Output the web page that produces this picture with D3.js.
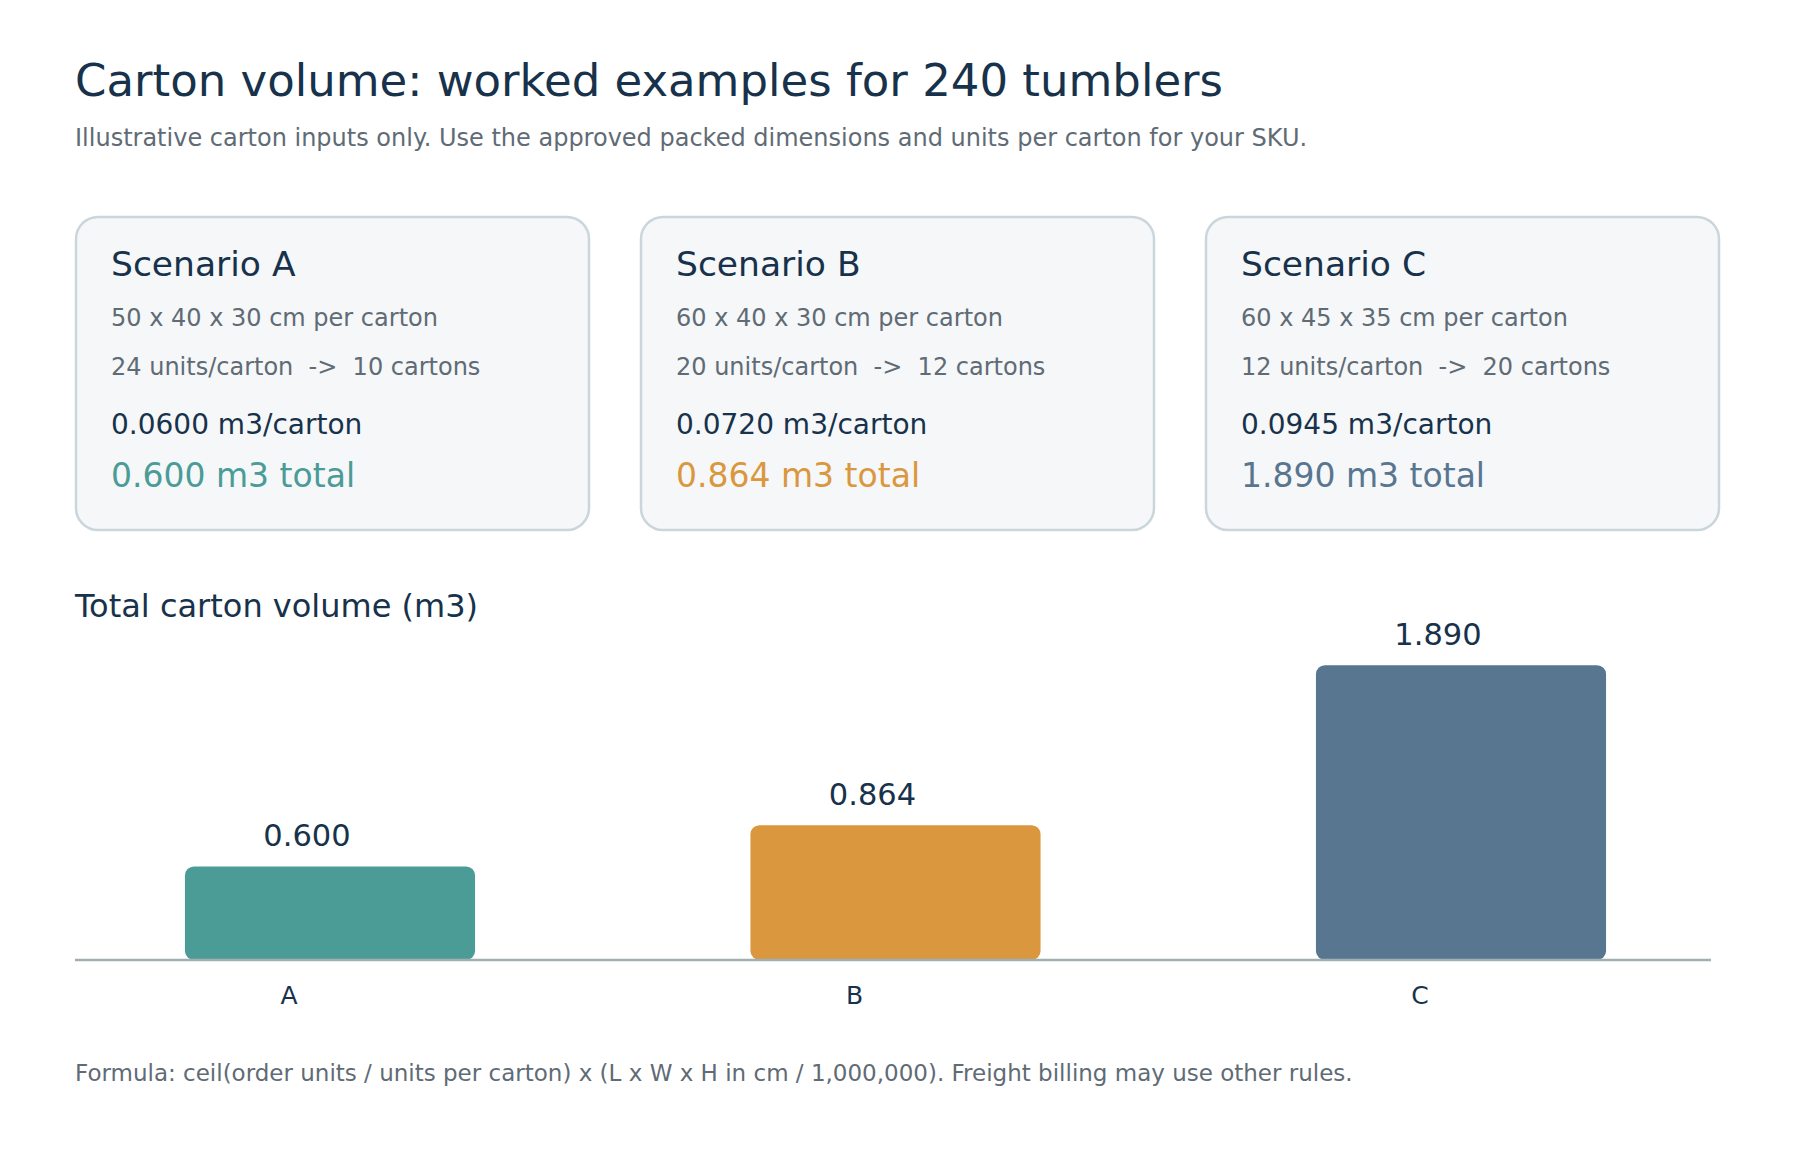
<!DOCTYPE html>
<html><head><meta charset="utf-8">
<script src="https://cdn.jsdelivr.net/npm/d3@7"></script>
<style>html,body{margin:0;padding:0;background:#fff;}svg{display:block;font-family:"DejaVu Sans",sans-serif;}</style>
</head><body>
<svg id="chart" width="1800" height="1150"></svg>
<script>
const scenarios = ["A", "B", "C"];
const dims = ["50 x 40 x 30 cm per carton", "60 x 40 x 30 cm per carton", "60 x 45 x 35 cm per carton"];
const unitsPerCarton = [24, 20, 12];
const cartons = [10, 12, 20];
const perCarton = [0.0600, 0.0720, 0.0945];
const totals = [0.600, 0.864, 1.890];
const colors = ["#4b9b97", "#da973e", "#587690"];
const titleText = "Carton volume: worked examples for 240 tumblers";
const subtitleText = "Illustrative carton inputs only. Use the approved packed dimensions and units per carton for your SKU.";
const sectionText = "Total carton volume (m3)";
const footText = "Formula: ceil(order units / units per carton) x (L x W x H in cm / 1,000,000). Freight billing may use other rules.";

const svg = d3.select("#chart");
const dark = "#17324a", gray = "#5f6b75";

svg.append("text").attr("x", 75).attr("y", 96).attr("font-size", 45).attr("fill", dark).text(titleText);
svg.append("text").attr("x", 75).attr("y", 146).attr("font-size", 24).attr("fill", gray).text(subtitleText);

// cards
const cardX = d3.scaleBand().domain(scenarios).range([76, 1719]).paddingInner(0.092).paddingOuter(0);
const cardTop = 217, cardH = 313;
const cards = svg.selectAll("g.card").data(scenarios).join("g").attr("class", "card")
  .attr("transform", d => `translate(${cardX(d)},${cardTop})`);
cards.append("rect").attr("width", cardX.bandwidth()).attr("height", cardH).attr("rx", 22)
  .attr("fill", "#f5f7f9").attr("stroke", "#cbd6dc").attr("stroke-width", 2.5);
cards.append("text").attr("x", 35).attr("y", 59).attr("font-size", 34.5).attr("fill", dark).text(d => "Scenario " + d);
cards.append("text").attr("x", 35).attr("y", 109).attr("font-size", 24).attr("fill", gray).text((d, i) => dims[i]);
cards.append("text").attr("x", 35).attr("y", 158).attr("font-size", 24).attr("fill", gray)
  .attr("xml:space", "preserve").style("white-space", "pre")
  .text((d, i) => `${unitsPerCarton[i]} units/carton  ->  ${cartons[i]} cartons`);
cards.append("text").attr("x", 35).attr("y", 217).attr("font-size", 28).attr("fill", dark)
  .text((d, i) => d3.format(".4f")(perCarton[i]) + " m3/carton");
cards.append("text").attr("x", 35).attr("y", 270).attr("font-size", 33).attr("fill", (d, i) => colors[i])
  .text((d, i) => d3.format(".3f")(totals[i]) + " m3 total");

// bar chart
svg.append("text").attr("x", 75).attr("y", 617).attr("font-size", 32).attr("fill", dark).text(sectionText);
const baseY = 960;
const x = d3.scaleBand().domain(scenarios).range([77.5, 1713.5]).paddingInner(0.487).paddingOuter(0.19);
const y = d3.scaleLinear().domain([0, 2.2]).range([baseY, baseY - 2.2 * 156]);
svg.selectAll("rect.bar").data(scenarios).join("rect").attr("class", "bar")
  .attr("x", d => x(d)).attr("width", x.bandwidth())
  .attr("y", (d, i) => y(totals[i])).attr("height", (d, i) => y(0) - y(totals[i]))
  .attr("rx", 9).attr("fill", (d, i) => colors[i]);
svg.selectAll("text.val").data(scenarios).join("text").attr("class", "val")
  .attr("x", d => x(d) + x.bandwidth() / 2 - 23).attr("y", (d, i) => y(totals[i]) - 20)
  .attr("text-anchor", "middle").attr("font-size", 30.5).attr("fill", dark)
  .text((d, i) => d3.format(".3f")(totals[i]));
const axis = svg.append("g").attr("transform", `translate(-41,${baseY})`)
  .call(d3.axisBottom(x).tickSize(0).tickPadding(26));
axis.select(".domain").remove();
axis.selectAll("text").attr("font-size", 25).attr("fill", dark).attr("font-family", "DejaVu Sans").attr("dy", "0.71em");
svg.append("line").attr("x1", 75).attr("x2", 1711).attr("y1", baseY).attr("y2", baseY)
  .attr("stroke", "#9fb0b3").attr("stroke-width", 2.5);

svg.append("text").attr("x", 75).attr("y", 1081).attr("font-size", 23).attr("fill", gray).text(footText);
</script>
</body></html>
